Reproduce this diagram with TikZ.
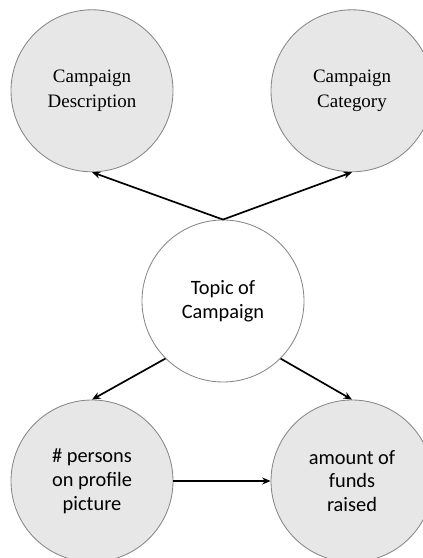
\documentclass[tikz,border=0pt]{standalone}
\usepackage{fontspec}
\setmainfont{Liberation Serif}
\newfontfamily\calibrif{Carlito}
\usepackage{tikz}
\usetikzlibrary{arrows.meta}

\definecolor{nodefill}{RGB}{231,231,231}
\definecolor{nodeline}{RGB}{135,135,135}

\begin{document}
\begin{tikzpicture}
		\useasboundingbox (0,0) rectangle (10.575,13.95);
		\begin{scope}[every node/.style={circle,draw=nodeline,line width=0.6pt,
					  minimum size=4.05cm,inner sep=0pt,align=center}]
			\begin{scope}[every node/.append style={fill=nodefill,
						  font=\fontsize{13.5}{17.8}\selectfont}]
				\node (D) at (2.3,11.68) {Campaign\\Description};
				\node (C) at (8.8,11.68) {Campaign\\Category};
			\end{scope}
			\node[font=\calibrif\fontsize{14.5}{17}\selectfont] (T) at (5.575,6.425) {Topic of\\Campaign};
			\begin{scope}[every node/.append style={fill=nodefill,
						  font=\calibrif\fontsize{14.5}{17}\selectfont}]
				\node (P) at (2.3,1.925) {\# persons\\on profile\\picture};
				\node (F) at (8.8,1.925) {amount of\\funds\\raised};
			\end{scope}
		\end{scope}
		
		\begin{scope}[>={Stealth[black,length=6pt,width=5pt]},
					  every edge/.style={draw=black,line width=1.2pt}]
			\path [->] (T.north) edge (D.south);
			\path [->] (T.north) edge (C.south);
			\path [->] (T.south west) edge (P.north);
			\path [->] (T.south east) edge (F.north);
			\path [->] (P.east) edge (F.west);
		\end{scope}
\end{tikzpicture}
\end{document}
